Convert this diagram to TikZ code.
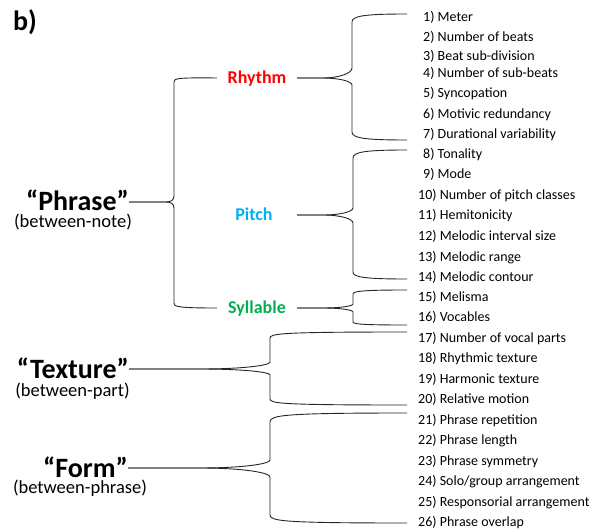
\documentclass[tikz,border=0pt]{standalone}
\usepackage{fontspec}
\setmainfont{Carlito}
\definecolor{rred}{HTML}{FF0000}
\definecolor{pblue}{HTML}{00B0F0}
\definecolor{sgreen}{HTML}{00B050}
% #1 tip, #2 x of vertical, #3 y of middle, #4 signed gap, #5 y of arm end, #6 signed arm drop, #7 straight tip length
\newcommand\halfbrc[7]{%
  \draw[brc] (#1) -- ({#2-#7},{#3}) .. controls ({#2-#7*0.4},{#3}) and ({#2},{#3+(#4)*0.5}) .. ({#2},{#3+(#4)})
    -- ({#2},{#5-(#6)}) .. controls ({#2},{#5-(#6)*0.25}) and ({#2+12},{#5}) .. (407,{#5});}
\begin{document}
\begin{tikzpicture}[x=1pt,y=-1pt,
  item/.style={anchor=west,inner sep=0pt,font=\fontsize{14}{16}\selectfont,text height=9pt,text depth=0pt},
  cat/.style={inner sep=0pt,font=\fontsize{18}{20}\selectfont\bfseries,minimum width=80pt,text height=11.6pt,text depth=0pt},
  big/.style={anchor=east,inner sep=0pt,font=\fontsize{28}{30}\selectfont\bfseries,text height=18pt,text depth=0pt},
  sub/.style={anchor=base,inner sep=0pt,font=\fontsize{18.5}{21}\selectfont,text height=12pt,text depth=3pt},
  brc/.style={line width=0.9pt,black!85}]
\useasboundingbox (0,0) rectangle (599,529);

\node[anchor=base west,inner sep=0pt,font=\fontsize{28}{30}\selectfont\bfseries] (lbl) at (13,31) {b)};

% top-level labels
\node[big] (phrase) at (129,202) {“Phrase”};
\node[sub] (phrasesub) at (73,227.5) {(between-note)};
\node[big] (texture) at (129,369) {“Texture”};
\node[sub] (texturesub) at (72.5,396.5) {(between-part)};
\node[big] (form) at (128,468) {“Form”};
\node[sub] (formsub) at (80,493.5) {(between-phrase)};

% categories
\node[cat,text=rred] (rhythm) at (257,78) {Rhythm};
\node[cat,text=pblue,minimum width=86pt] (pitch) at (254,215) {Pitch};
\node[cat,text=sgreen] (syllable) at (257,308) {Syllable};

% items
\node[item] (i1) at (423,16.7) {1) Meter};
\node[item] (i2) at (423,37.3) {2) Number of beats};
\node[item] (i3) at (423,56) {3) Beat sub-division};
\node[item] (i4) at (423,72.7) {4) Number of sub-beats};
\node[item] (i5) at (423,92.7) {5) Syncopation};
\node[item] (i6) at (423,114) {6) Motivic redundancy};
\node[item] (i7) at (423,134) {7) Durational variability};
\node[item] (i8) at (423,154) {8) Tonality};
\node[item] (i9) at (423,174.5) {9) Mode};
\node[item] (i10) at (418,195) {10) Number of pitch classes};
\node[item] (i11) at (418,215) {11) Hemitonicity};
\node[item] (i12) at (418,236) {12) Melodic interval size};
\node[item] (i13) at (418,256.7) {13) Melodic range};
\node[item] (i14) at (418,276.7) {14) Melodic contour};
\node[item] (i15) at (418,297.3) {15) Melisma};
\node[item] (i16) at (418,317.3) {16) Vocables};
\node[item] (i17) at (418,337.5) {17) Number of vocal parts};
\node[item] (i18) at (418,358.3) {18) Rhythmic texture};
\node[item] (i19) at (418,379.3) {19) Harmonic texture};
\node[item] (i20) at (418,399.3) {20) Relative motion};
\node[item] (i21) at (418,420) {21) Phrase repetition};
\node[item] (i22) at (418,440) {22) Phrase length};
\node[item] (i23) at (418,460.7) {23) Phrase symmetry};
\node[item] (i24) at (418,481) {24) Solo/group arrangement};
\node[item] (i25) at (418,501.7) {25) Responsorial arrangement};
\node[item] (i26) at (418,521.7) {26) Phrase overlap};

% Phrase bracket
\draw[brc] (phrase.east) -- (166,202) .. controls (171,202) and (174,200) .. (174,196)
  -- (174,82) .. controls (174,78.5) and (176,77.5) .. (rhythm.west);
\draw[brc] (phrase.east) -- (166,202) .. controls (171,202) and (174,204) .. (174,208)
  -- (174,303) .. controls (174,306.5) and (176,308) .. (syllable.west);

% Rhythm brace
\halfbrc{rhythm.east}{352}{78}{-10}{14}{-8}{30}
\halfbrc{rhythm.east}{352}{78}{7}{140}{8}{30}
% Pitch brace
\halfbrc{pitch.east}{353}{215}{-7}{150}{-8}{30}
\halfbrc{pitch.east}{353}{215}{8}{279}{7}{30}
% Syllable brace
\halfbrc{syllable.east}{353}{308}{-4}{290}{-4}{30}
\halfbrc{syllable.east}{353}{308}{4}{325}{3}{30}
% Texture brace
\halfbrc{texture.east}{270}{369}{-7}{332}{-6}{70}
\halfbrc{texture.east}{270}{369}{6}{405}{6}{70}
% Form brace
\halfbrc{form.east}{270}{468}{-8}{413}{-9}{70}
\halfbrc{form.east}{270}{468}{9}{523}{8}{70}
\end{tikzpicture}
\end{document}
